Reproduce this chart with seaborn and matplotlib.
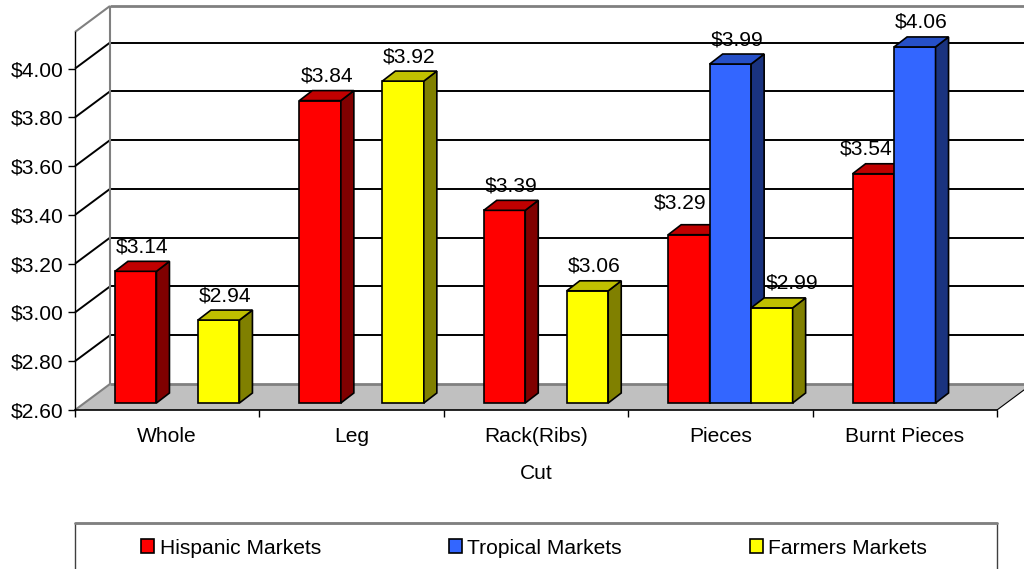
import numpy as np
import pandas as pd
import matplotlib
matplotlib.use("Agg")
import matplotlib.pyplot as plt
from matplotlib.patches import Polygon, Rectangle
from matplotlib.lines import Line2D
from matplotlib.transforms import IdentityTransform, ScaledTranslation
from matplotlib.colors import to_hex
import seaborn as sns

# ---- data -------------------------------------------------------------
cuts = ["Whole", "Leg", "Rack(Ribs)", "Pieces", "Burnt Pieces"]
markets = ["Hispanic Markets", "Tropical Markets", "Farmers Markets"]
hispanic = [3.14, 3.84, 3.39, 3.29, 3.54]
tropical = [None, None, None, 3.99, 4.06]
farmers = [2.94, 3.92, 3.06, 2.99, None]
price_ticks = [2.60, 2.80, 3.00, 3.20, 3.40, 3.60, 3.80, 4.00]
x_title = "Cut"

# ---- styling ----------------------------------------------------------
front_colors = ["#FF0000", "#3366FF", "#FFFF00"]
side_colors = ["#800000", "#1A337F", "#808000"]
top_colors = ["#C00000", "#2650C8", "#C0C000"]
FS = 15.1
W, H = 1024, 569
BAR = (10, 7)      # bar front plane, pixels from the front axis plane
BACK = (35, 26)    # back wall plane
DEPTH = (13, 10)   # bar depth
WALL_TOP = 4.15
# hand-placed label nudges (pixels) where labels would crowd neighbours
label_nudge = {("Pieces", "Hispanic Markets"): (-15, 7),
               ("Pieces", "Farmers Markets"): (14, 0),
               ("Burnt Pieces", "Hispanic Markets"): (-14, 0)}

rows = []
for market, series in zip(markets, [hispanic, tropical, farmers]):
    for cut, val in zip(cuts, series):
        if val is not None:
            rows.append({"Cut": cut, "Market": market, "Price": val})
df = pd.DataFrame(rows)

sns.set_style("white")
plt.rcParams["font.family"] = ["Liberation Sans", "DejaVu Sans"]
for key in ["text.color", "axes.labelcolor", "xtick.color", "ytick.color"]:
    plt.rcParams[key] = "black"

fig = plt.figure(figsize=(W / 100, H / 100), dpi=100)
ax = fig.add_axes([75 / W, 159 / H, 922 / W, 378 / H])

sns.barplot(data=df, x="Cut", y="Price", hue="Market", order=cuts,
            hue_order=markets, palette=front_colors, saturation=1,
            width=0.675, errorbar=None, legend=False,
            edgecolor="black", linewidth=1.2, ax=ax)

base = price_ticks[0]
x0, x1 = -0.5, len(cuts) - 0.5
ax.set_xlim(x0, x1)
ax.set_ylim(base, WALL_TOP)
ax.patch.set_visible(False)

ident = IdentityTransform()


def pt(x, v, off=(0, 0)):
    px, py = ax.transData.transform((x, v))
    return (px + off[0], py + off[1])


def seg(a, b, color, lw, z):
    ax.add_line(Line2D([a[0], b[0]], [a[1], b[1]], color=color, lw=lw,
                       transform=ident, clip_on=False, zorder=z,
                       solid_capstyle="butt"))


bars = [p for p in ax.patches]

# ---- walls and floor ---------------------------------------------------
ax.add_patch(Polygon([pt(x0, base), pt(x1, base), pt(x1, base, BACK),
                      pt(x0, base, BACK)], closed=True, facecolor="#C0C0C0",
                     edgecolor="none", transform=ident, clip_on=False,
                     zorder=1))
for v in price_ticks[1:]:
    seg(pt(x0, v, BACK), pt(x1, v, BACK), "black", 1.4, 1.2)
    seg(pt(x0, v), pt(x0, v, BACK), "black", 1.4, 1.2)
seg(pt(x0, base, BACK), pt(x0, WALL_TOP, BACK), "#808080", 1.5, 1.3)
seg(pt(x0, WALL_TOP, BACK), pt(x1, WALL_TOP, BACK), "#808080", 2.0, 1.3)
seg(pt(x0, WALL_TOP), pt(x0, WALL_TOP, BACK), "#808080", 1.5, 1.3)
seg(pt(x0, base, BACK), pt(x1, base, BACK), "#808080", 2.0, 1.3)
seg(pt(x0, base), pt(x0, base, BACK), "#808080", 1.5, 1.3)
seg(pt(x1, base), pt(x1, base, BACK), "black", 0.8, 1.3)

# ---- 3D bars -----------------------------------------------------------
bar_shift = ScaledTranslation(BAR[0] / 100, BAR[1] / 100, fig.dpi_scale_trans)
bars.sort(key=lambda p: p.get_x())
for i, bar in enumerate(bars):
    value = bar.get_height()
    k = [c.lower() for c in front_colors].index(to_hex(bar.get_facecolor()))
    cut = cuts[int(np.floor(bar.get_x() + bar.get_width() / 2 + 0.5))]
    z = 3 + i
    bar.set_y(base)
    bar.set_height(value - base)
    bar.set_transform(ax.transData + bar_shift)
    bar.set_clip_on(False)
    bar.set_zorder(z)
    bx0, by0 = pt(bar.get_x(), base, BAR)
    bx1, by1 = pt(bar.get_x() + bar.get_width(), value, BAR)
    dx, dy = DEPTH
    ax.add_patch(Polygon([(bx1, by0), (bx1 + dx, by0 + dy), (bx1 + dx, by1 + dy),
                          (bx1, by1)], closed=True, facecolor=side_colors[k],
                         edgecolor="black", lw=1.2, joinstyle="miter",
                         transform=ident, clip_on=False, zorder=z))
    ax.add_patch(Polygon([(bx0, by1), (bx1, by1), (bx1 + dx, by1 + dy),
                          (bx0 + dx, by1 + dy)], closed=True,
                         facecolor=top_colors[k], edgecolor="black", lw=1.2,
                         joinstyle="miter", transform=ident, clip_on=False,
                         zorder=z))
    nx, ny = label_nudge.get((cut, markets[k]), (0, 0))
    ax.text((bx0 + bx1) / 2 + dx / 2 + nx, by1 + 24.5 + ny, f"${value:.2f}",
            transform=ident, ha="center", va="center", fontsize=FS,
            zorder=50, clip_on=False)

# ---- axes --------------------------------------------------------------
for s in ["top", "right"]:
    ax.spines[s].set_visible(False)
ax.spines["left"].set_color("black")
ax.spines["left"].set_linewidth(1.0)
ax.spines["bottom"].set_color("black")
ax.spines["bottom"].set_linewidth(1.2)
ax.spines["left"].set_zorder(2)
ax.spines["bottom"].set_zorder(2)

ax.set_yticks(price_ticks)
ax.set_yticklabels([f"${v:.2f}" for v in price_ticks], fontsize=FS)
ax.tick_params(axis="y", left=True, length=5, width=1, pad=3.5,
               direction="out")
ax.set_xticks(range(len(cuts)))
ax.set_xticklabels(cuts, fontsize=FS)
ax.set_xticks([i - 0.5 for i in range(len(cuts) + 1)], minor=True)
ax.tick_params(axis="x", which="major", bottom=True, length=0, pad=12)
ax.tick_params(axis="x", which="minor", bottom=True, length=5, width=1,
               direction="out")
ax.set_xlabel(x_title, fontsize=FS, labelpad=13.5)
ax.set_ylabel("")

# ---- legend ------------------------------------------------------------
handles = [Rectangle((0, 0), 1, 1, facecolor=c, edgecolor="black", lw=1.2)
           for c in front_colors]
fig.legend(handles, markets, loc="center",
           bbox_to_anchor=(534 / W, (H - 548) / H), ncol=3, frameon=False,
           fontsize=FS, handlelength=0.62, handleheight=0.62,
           handletextpad=0.25, columnspacing=6.1, borderpad=0,
           borderaxespad=0)
fig.add_artist(Rectangle((75, -10), 922, H - 523 + 10, transform=ident,
                         fill=False, edgecolor="#404040", lw=1.0))
fig.add_artist(Line2D([75, 997], [H - 523, H - 523], color="#808080", lw=2.0,
                      transform=ident))

fig.savefig("out.png", dpi=100)
